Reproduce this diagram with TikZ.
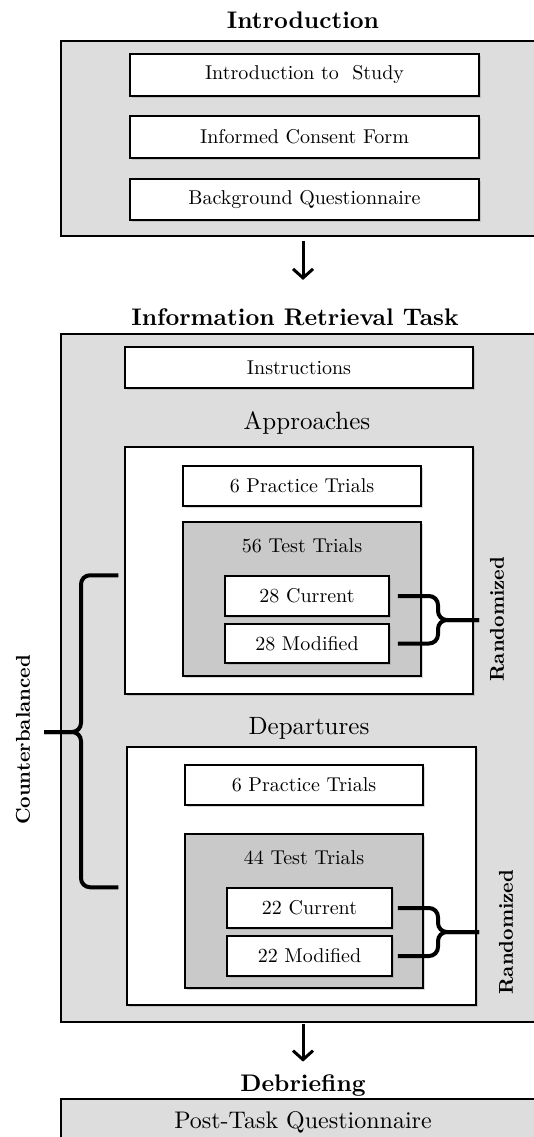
\documentclass[tikz,border=0pt]{standalone}
\usepackage{fontspec}
\setmainfont{lmroman10-regular.otf}[BoldFont=lmroman10-bold.otf]
\usetikzlibrary{arrows.meta,shadows}
\definecolor{panelgray}{HTML}{DDDDDD}
\definecolor{trialgray}{HTML}{C9C9C9}

\begin{document}
\begin{tikzpicture}[x=1pt, y=-1pt,
  panel/.style={draw, line width=1.5pt, fill=panelgray, inner sep=0pt},
  box/.style={draw, line width=1.5pt, fill=white, inner sep=0pt, font=\fontsize{20}{24}\selectfont,
    drop shadow={shadow xshift=1.5pt, shadow yshift=-2pt, opacity=0.3}},
  trials/.style={box, fill=trialgray},
  title/.style={font=\fontsize{24}{28}\selectfont\bfseries},
  heading/.style={font=\fontsize{25}{30}\selectfont},
  plain/.style={font=\fontsize{20}{24}\selectfont},
  side/.style={font=\fontsize{20}{24}\selectfont\bfseries, rotate=90},
  brace/.style={line width=4pt, rounded corners=9pt},
  >={Straight Barb[length=9pt,width=20pt]}
]
\useasboundingbox (0,0) rectangle (534,1137);
\clip (0,0) rectangle (534,1137);

\node[title] (introtitle) at (303,20) {Introduction};
\node[panel, minimum width=491pt, minimum height=195pt] (intropanel) at (306.5,138.5) {};
\node[box, minimum width=349pt, minimum height=42pt] (study) at (304.5,75) {Introduction to\ \ Study};
\node[box, minimum width=349pt, minimum height=42pt] (consent) at (304.5,137) {Informed Consent Form};
\node[box, minimum width=349pt, minimum height=41pt] (bgquest) at (304.5,199.5) {Background Questionnaire};

\node[title] (irttitle) at (295,317) {Information Retrieval Task};
\node[panel, minimum width=491pt, minimum height=688pt] (irtpanel) at (306.5,678) {};
\node[box, minimum width=348pt, minimum height=41pt] (instr) at (299,367.5) {Instructions};

\node[heading] (apptitle) at (307,423) {Approaches};
\node[box, minimum width=348pt, minimum height=247pt] (appbox) at (299,570.5) {};
\node[box, minimum width=238pt, minimum height=40pt] (apppractice) at (302,486) {6 Practice Trials};
\node[trials, minimum width=238pt, minimum height=154pt] (apptest) at (302,599) {};
\node[plain] (apptesttxt) at (302,546) {56 Test Trials};
\node[box, minimum width=164pt, minimum height=40pt] (appcur) at (307,596) {28 Current};
\node[box, minimum width=164pt, minimum height=39pt] (appmod) at (307,643.5) {28 Modified};
\node[side] (rand1) at (497,619) {Randomized};

\node[heading] (deptitle) at (309,728) {Departures};
\node[box, minimum width=349pt, minimum height=258pt] (depbox) at (301.5,876) {};
\node[box, minimum width=238pt, minimum height=40pt] (deppractice) at (304,785) {6 Practice Trials};
\node[trials, minimum width=238pt, minimum height=154pt] (deptest) at (304,911) {};
\node[plain] (deptesttxt) at (304,858) {44 Test Trials};
\node[box, minimum width=165pt, minimum height=40pt] (depcur) at (309.5,908) {22 Current};
\node[box, minimum width=165pt, minimum height=40pt] (depmod) at (309.5,956) {22 Modified};
\node[side] (rand2) at (506,932) {Randomized};

\node[side] (counter) at (23,740) {Counterbalanced};

\node[title] (debtitle) at (303,1085) {Debriefing};
\node[panel, minimum width=491pt, minimum height=101pt] (debpanel) at (306.5,1149.5) {};
\node[font=\fontsize{24}{28}\selectfont] (posttask) at (303,1122) {Post-Task Questionnaire};

\coordinate (tip1) at (479,620);
\coordinate (tip2) at (479,932);
\coordinate (tip3) at (44,732);

\draw[->, line width=3pt, shorten <=4pt, shorten >=25pt] (intropanel.south -| introtitle) -- (irttitle.north -| introtitle);
\draw[->, line width=3pt, shorten <=1pt, shorten >=9pt] (irtpanel.south -| introtitle) -- (debtitle.north);

\draw[brace] ([xshift=8pt]appcur.east) -| ([xshift=-41pt]tip1) -- (tip1);
\draw[brace] ([xshift=8pt]appmod.east) -| ([xshift=-41pt]tip1) -- (tip1);
\draw[brace] ([xshift=5pt]depcur.east) -| ([xshift=-41pt]tip2) -- (tip2);
\draw[brace] ([xshift=5pt]depmod.east) -| ([xshift=-41pt]tip2) -- (tip2);
\draw[brace] ([xshift=-6pt]appbox.west |- appcur.north) -| ([xshift=37pt]tip3) -- (tip3);
\draw[brace] ([xshift=-8pt]depbox.west |- depcur.north) -| ([xshift=37pt]tip3) -- (tip3);
\end{tikzpicture}
\end{document}
